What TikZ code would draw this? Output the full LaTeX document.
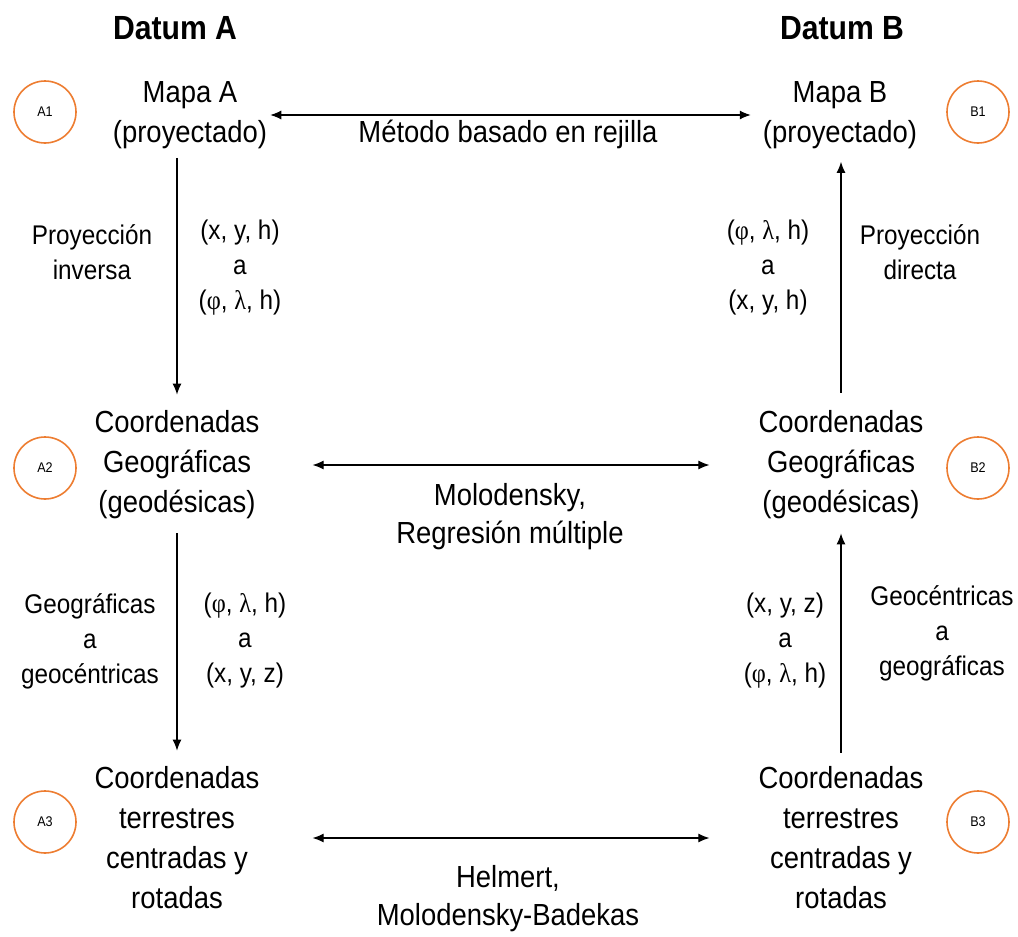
\documentclass[tikz,border=0pt]{standalone}
\usepackage{fontspec}
\setmainfont{Liberation Sans}[FakeStretch=0.9]
\newfontfamily\grk{Liberation Serif}[FakeStretch=0.9]
\usepackage{tikz}
\usetikzlibrary{positioning,arrows.meta}
\definecolor{tagorange}{RGB}{237,125,49}
\newcommand{\phl}{({\grk φ}, {\grk λ}, h)}

\begin{document}
\begin{tikzpicture}[x=1pt,y=-1pt]
\tikzstyle{datum}=[inner sep=0pt, font=\fontsize{33.5}{38}\selectfont\bfseries]
\tikzstyle{block}=[align=center, inner sep=0pt, font=\fontsize{30.5}{40}\selectfont]
\tikzstyle{method}=[align=center, inner sep=0pt, font=\fontsize{30.5}{38}\selectfont]
\tikzstyle{conv}=[align=center, inner sep=0pt, font=\fontsize{27}{35}\selectfont]
\tikzstyle{tag}=[circle, minimum size=62pt, inner sep=0pt, line width=1.6pt, draw=tagorange, font=\fontsize{14}{16}\selectfont]
\tikzstyle{connect}=[-{Latex[length=11pt,width=9pt]}, line width=1.1pt]
\tikzstyle{both}=[{Latex[length=11pt,width=9pt]}-{Latex[length=11pt,width=9pt]}, line width=1.1pt]
\useasboundingbox (0,0) rectangle (1018,937);

\node[datum] (datA) at (175,28) {Datum A};
\node[datum] (datB) at (842,28) {Datum B};

\node[block] (mapA) at (190,115) {Mapa A\\(proyectado)};
\node[block] (mapB) at (840,115) {Mapa B\\(proyectado)};
\node[block] (geoA) at (177,465) {Coordenadas\\Geográficas\\(geodésicas)};
\node[block] (geoB) at (841,465) {Coordenadas\\Geográficas\\(geodésicas)};
\node[block] (terA) at (177,838) {Coordenadas\\terrestres\\centradas y\\rotadas};
\node[block] (terB) at (841,838) {Coordenadas\\terrestres\\centradas y\\rotadas};

\node[tag] (A1) at (45,112) {A1};
\node[tag] (A2) at (45,468) {A2};
\node[tag] (A3) at (45,822) {A3};
\node[tag] (B1) at (978,112) {B1};
\node[tag] (B2) at (978,468) {B2};
\node[tag] (B3) at (978,822) {B3};

\node[method] (grid) at (508,134) {Método basado en rejilla};
\node[method] (molo) at (510,517) {Molodensky,\\Regresión múltiple};
\node[method] (helm) at (508,899) {Helmert,\\Molodensky-Badekas};

\node[conv] (invA) at (92,252) {Proyección\\inversa};
\node[conv] (xyA) at (240,268) {(x, y, h)\\a\\\phl};
\node[conv] (gcA) at (90,641) {Geográficas\\a\\geocéntricas};
\node[conv] (phA) at (245,641) {\phl\\a\\(x, y, z)};
\node[conv] (dirB) at (920,252) {Proyección\\directa};
\node[conv] (phB) at (768,268) {\phl\\a\\(x, y, h)};
\node[conv] (ggB) at (942,633) {Geocéntricas\\a\\geográficas};
\node[conv] (xyB) at (785,641) {(x, y, z)\\a\\\phl};

\path[both]
	(mapA) edge[shorten <=3pt, shorten >=12pt] (mapB)
	(geoA) edge[shorten <=53pt, shorten >=49pt] (geoB)
	(terA) edge[shorten <=53pt, shorten >=49pt] (terB);

\path[connect]
	(mapA.south -| geoA.north) edge[shorten <=9pt, shorten >=16pt] (geoA)
	(geoA) edge[shorten <=14pt, shorten >=16pt] (terA)
	(terB) edge[shorten <=14pt, shorten >=14pt] (geoB)
	(geoB) edge[shorten <=18pt, shorten >=13pt] (mapB.south -| geoB.north);

\end{tikzpicture}
\end{document}
